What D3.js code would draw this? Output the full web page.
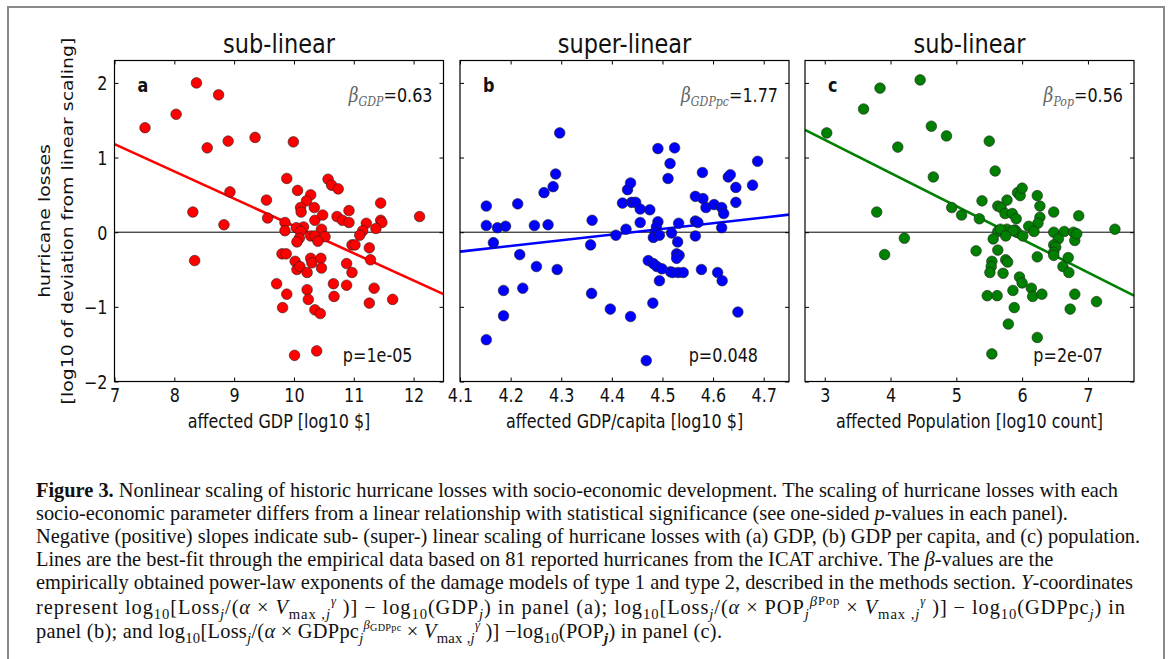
<!DOCTYPE html>
<html lang="en">
<head>
<meta charset="utf-8">
<title>Nonlinear scaling of hurricane losses</title>
<script src="https://d3js.org/d3.v7.min.js"></script>
<style>
  body { margin: 0; background: #fff; }
  #fig text { font-family: "DejaVu Sans", sans-serif; fill: #111; }
  #fig .caption text { font-family: "Liberation Serif", "Times New Roman", serif; fill: #111; }
  #fig .math { font-family: "DejaVu Serif", serif; font-style: italic; }
</style>
</head>
<body>
<svg id="fig" width="1171" height="659"></svg>
<script>
// ---- data ----
const yTicks = [-2, -1, 0, 1, 2];
const titles = ['sub-linear', 'super-linear', 'sub-linear'];
const xLabels = ['affected GDP [log10 $]', 'affected GDP/capita [log10 $]', 'affected Population [log10 count]'];
const letters = ['a', 'b', 'c'];
const betaNames = ['GDP', 'GDPpc', 'Pop'];
const betaValues = ['0.63', '1.77', '0.56'];
const pValues = ['p=1e-05', 'p=0.048', 'p=2e-07'];
const xDomains = [[7, 12.5], [4.1, 4.75], [2.7, 7.7]];
const xTicks = [[7, 8, 9, 10, 11, 12], [4.1, 4.2, 4.3, 4.4, 4.5, 4.6, 4.7], [3, 4, 5, 6, 7]];

// (x, y) per hurricane
const gdpPoints = [
  [7.51,1.40],[8.03,1.58],[8.37,2.00],[8.74,1.84],[8.55,1.13],[8.90,1.22],[9.35,1.27],[9.99,1.21],
  [8.31,0.27],[8.83,0.10],[8.93,0.54],[9.54,0.43],[9.56,0.19],[9.88,0.72],[10.06,0.56],[10.28,0.50],
  [10.21,0.42],[10.11,0.33],[10.12,0.27],[10.34,0.33],[10.57,0.71],[10.63,0.63],[10.74,0.58],[10.35,0.16],
  [10.48,0.23],[10.72,0.21],[10.81,0.16],[10.92,0.29],[10.92,0.13],[11.21,0.12],[11.45,0.39],[11.45,0.16],
  [11.47,0.13],[12.10,0.21],[9.85,0.13],[9.85,0.02],[10.46,0.04],[10.16,0.07],[10.04,0.06],[11.37,0.05],
  [11.15,0.02],[10.11,0.01],
  [10.28,-0.05],[10.35,-0.05],[10.52,-0.06],[10.09,-0.08],[10.05,-0.13],[10.40,-0.12],[11.10,-0.04],
  [10.97,-0.17],[11.02,-0.17],[11.26,-0.21],[11.28,-0.37],[9.80,-0.29],[9.87,-0.29],[8.34,-0.38],[10.02,-0.39],
  [10.28,-0.35],[10.30,-0.41],[10.45,-0.35],[10.88,-0.42],[10.05,-0.50],[10.10,-0.46],[10.22,-0.54],[10.46,-0.48],
  [10.97,-0.54],[9.71,-0.69],[10.66,-0.69],[10.88,-0.71],[10.22,-0.77],[11.34,-0.75],[9.88,-0.83],[10.67,-0.86],
  [10.24,-0.90],[11.65,-0.90],[11.26,-0.95],[9.81,-1.01],[10.35,-1.04],[10.44,-1.09],[10.01,-1.65],[10.38,-1.59]
];
const gdppcPoints = [
  [4.152,0.35],[4.152,0.09],[4.174,0.06],[4.190,0.08],[4.214,0.38],[4.247,0.09],[4.274,0.10],[4.266,0.53],
  [4.284,0.61],[4.289,0.78],[4.297,1.33],[4.361,0.16],[4.421,0.39],[4.431,0.57],[4.437,0.66],[4.439,0.40],
  [4.447,0.40],[4.456,0.31],[4.456,0.13],[4.428,0.04],[4.475,0.30],[4.491,1.12],[4.524,1.13],[4.515,0.92],
  [4.511,0.72],[4.491,0.14],[4.488,0.07],[4.532,0.12],[4.565,0.48],[4.579,0.80],[4.580,0.45],[4.586,0.33],
  [4.602,0.37],[4.617,0.33],[4.621,0.25],[4.565,0.15],[4.570,0.13],[4.617,0.06],[4.630,0.74],[4.634,0.77],
  [4.645,0.60],[4.645,0.40],[4.678,0.63],[4.688,0.95],[4.486,0.00],
  [4.166,-0.14],[4.218,-0.30],[4.251,-0.46],[4.292,-0.50],[4.186,-0.78],[4.224,-0.75],[4.186,-1.12],[4.152,-1.44],
  [4.358,-0.17],[4.360,-0.82],[4.397,-1.03],[4.437,-1.13],[4.408,-0.04],[4.468,-1.72],[4.481,-0.95],[4.472,-0.38],
  [4.482,-0.42],[4.489,-0.46],[4.499,-0.49],[4.494,-0.65],[4.482,-0.07],[4.494,-0.04],[4.518,-0.01],[4.530,-0.13],
  [4.528,-0.29],[4.533,-0.31],[4.528,-0.35],[4.516,-0.53],[4.520,-0.54],[4.531,-0.54],[4.541,-0.54],[4.565,-0.05],
  [4.577,-0.50],[4.609,-0.54],[4.618,-0.65],[4.649,-1.07]
];
const popPoints = [
  [3.03,1.33],[3.59,1.65],[3.84,1.93],[4.45,2.04],[4.11,1.14],[4.62,1.42],[4.85,1.29],[5.50,1.22],
  [5.59,0.82],[4.65,0.74],[3.79,0.27],[4.93,0.33],[5.08,0.23],[5.35,0.18],[5.39,0.42],[5.63,0.35],
  [5.68,0.33],[5.74,0.25],[5.77,0.43],[5.85,0.25],[5.91,0.18],[5.93,0.53],[5.97,0.49],[6.00,0.59],
  [6.23,0.49],[6.27,0.35],[6.27,0.20],[6.24,0.12],[6.10,0.08],[6.18,0.01],[6.48,0.27],[6.86,0.22],
  [5.63,0.01],[5.77,0.04],[5.89,0.03],[5.92,0.00],[6.48,0.00],[6.64,0.01],[6.78,0.00],[7.41,0.04],
  [5.67,0.04],[5.86,0.02],
  [4.21,-0.08],[3.91,-0.30],[6.01,-0.05],[5.75,-0.05],[5.56,-0.09],[5.30,-0.25],[5.63,-0.24],[5.54,-0.39],
  [5.53,-0.46],[5.51,-0.54],[5.75,-0.37],[5.78,-0.40],[5.71,-0.55],[6.55,-0.09],[6.48,-0.17],[6.51,-0.20],
  [6.48,-0.27],[6.48,-0.31],[6.23,-0.33],[6.70,-0.34],[6.62,-0.46],[6.71,-0.54],[6.80,-0.11],[6.83,-0.02],
  [5.96,-0.60],[6.00,-0.68],[5.86,-0.78],[6.14,-0.75],[6.16,-0.86],[6.30,-0.83],[5.47,-0.85],[5.62,-0.85],
  [6.80,-0.83],[5.88,-1.01],[7.13,-0.93],[6.73,-1.03],[5.79,-1.23],[6.23,-1.41],[5.54,-1.63]
];
// best-fit lines, end points
const gdpFit = [[7, 1.18], [12.5, -0.83]];
const gdppcFit = [[4.1, -0.26], [4.75, 0.235]];
const popFit = [[2.7, 1.37], [7.7, -0.85]];

const seriesPoints = [gdpPoints, gdppcPoints, popPoints];
const seriesFits = [gdpFit, gdppcFit, popFit];
const seriesColors = ['#ff0000', '#0000ff', '#008000'];

// ---- layout ----
const svg = d3.select('#fig');
const panelLefts = [114.5, 460, 805];
const panelW = 329;
const plotTop = 60.5, plotBottom = 381.5;
const stretch = 1.18;   // the published figure is stretched vertically

svg.append('rect')
  .attr('x', 8).attr('y', 7).attr('width', 1156).attr('height', 700)
  .attr('fill', 'none').attr('stroke', '#8a8a8a').attr('stroke-width', 2);

const y = d3.scaleLinear().domain([-2, 2.3]).range([plotBottom, plotTop]);
const minus = d => d < 0 ? '\u2212' + Math.abs(d) : String(d);

// text placed at (x, y) baseline, stretched vertically like the original
function label(parent, px, py, str, size, anchor = 'start') {
  return parent.append('text')
    .attr('transform', `translate(${px},${py}) scale(1,${stretch})`)
    .attr('text-anchor', anchor).style('font-size', size + 'px').text(str);
}

panelLefts.forEach((left, i) => {
  const x = d3.scaleLinear().domain(xDomains[i]).range([left, left + panelW]);
  const g = svg.append('g');
  const color = seriesColors[i];

  // zero line
  g.append('line')
    .attr('x1', left).attr('x2', left + panelW)
    .attr('y1', y(0)).attr('y2', y(0))
    .attr('stroke', '#000').attr('stroke-width', 1);

  // fit line
  g.append('path')
    .datum(seriesFits[i])
    .attr('d', d3.line().x(d => x(d[0])).y(d => y(d[1])))
    .attr('fill', 'none').attr('stroke', color).attr('stroke-width', 2.6);

  // points
  g.append('g').selectAll('circle')
    .data(seriesPoints[i])
    .join('circle')
    .attr('cx', d => x(d[0])).attr('cy', d => y(d[1]))
    .attr('r', 5.3)
    .attr('fill', color).attr('stroke', '#222').attr('stroke-width', 0.6);

  // axes with inward ticks
  const fmt = i === 1 ? d3.format('.1f') : d3.format('d');
  const xb = g.append('g').attr('transform', `translate(0,${plotBottom})`)
    .call(d3.axisBottom(x).tickValues(xTicks[i]).tickSizeInner(-4).tickSizeOuter(0).tickFormat(fmt));
  const xt = g.append('g').attr('transform', `translate(0,${plotTop})`)
    .call(d3.axisTop(x).tickValues(xTicks[i]).tickSizeInner(-4).tickSizeOuter(0).tickFormat(''));
  const yl = g.append('g').attr('transform', `translate(${left},0)`)
    .call(d3.axisLeft(y).tickValues(yTicks).tickSizeInner(-4).tickSizeOuter(0)
      .tickFormat(i === 0 ? minus : ''));
  const yr = g.append('g').attr('transform', `translate(${left + panelW},0)`)
    .call(d3.axisRight(y).tickValues(yTicks).tickSizeInner(-4).tickSizeOuter(0).tickFormat(''));
  [xb, xt, yl, yr].forEach(a => {
    a.select('.domain').remove();
    a.selectAll('line').attr('stroke', '#000');
    a.selectAll('text').style('font-size', '16px').attr('fill', '#111')
      .attr('x', null).attr('y', null).attr('dy', null);
  });
  xb.selectAll('text').attr('transform', `translate(0,20) scale(1,${stretch})`);
  yl.selectAll('text').attr('transform', `translate(-7,7) scale(1,${stretch})`);

  // frame
  g.append('rect')
    .attr('x', left).attr('y', plotTop).attr('width', panelW).attr('height', plotBottom - plotTop)
    .attr('fill', 'none').attr('stroke', '#000').attr('stroke-width', 1.2);

  // title, x label
  label(g, left + panelW / 2, 53, titles[i], 22.5, 'middle');
  label(g, left + panelW / 2, 428, xLabels[i], 16, 'middle');

  // panel letter
  label(g, left + 23, 92, letters[i], 16).style('font-weight', 'bold');

  // beta annotation
  const bt = label(g, left + panelW - 11, 102, '', 16, 'end');
  bt.append('tspan').attr('class', 'math').attr('fill', '#666').style('font-size', '17px').text('\u03b2');
  bt.append('tspan').attr('class', 'math').attr('fill', '#666').attr('dy', 3.5)
    .style('font-size', '11px').text(betaNames[i]);
  bt.append('tspan').attr('dy', -3.5).style('font-family', '"DejaVu Serif", serif').text('=');
  bt.append('tspan').text(betaValues[i]);

  // p value
  label(g, left + panelW - 31, 362, pValues[i], 16, 'end');
});

// y axis label
[['hurricane losses', 50], ['[log10 of deviation from linear scaling]', 73]].forEach(([t, bx]) => {
  svg.append('text')
    .attr('transform', `translate(${bx},${(plotTop + plotBottom) / 2}) scale(1,${stretch}) rotate(-90)`)
    .attr('text-anchor', 'middle')
    .style('font-size', '16px').text(t);
});

// ---- caption ----
const caption = svg.append('g').attr('class', 'caption');
const capLeft = 36;
const capLines = [
  [['Figure 3.', 'b'], ' Nonlinear scaling of historic hurricane losses with socio-economic development. The scaling of hurricane losses with each'],
  ['socio-economic parameter differs from a linear relationship with statistical significance (see one-sided ', ['p', 'i'], '-values in each panel).'],
  ['Negative (positive) slopes indicate sub- (super-) linear scaling of hurricane losses with (a) GDP, (b) GDP per capita, and (c) population.'],
  ['Lines are the best-fit through the empirical data based on 81 reported hurricanes from the ICAT archive. The ', ['\u03b2', 'i'], '-values are the'],
  ['empirically obtained power-law exponents of the damage models of type 1 and type 2, described in the methods section. ', ['Y', 'i'], '-coordinates'],
  ['represent log', ['10', 'sub'], '[Loss', ['j', 'sub i'], '/(', ['\u03b1', 'i'], ' \u00d7 ', ['V', 'i'], ['max ,', 'sub'], ['j', 'sub i'], ['\u03b3', 'ss i'],
   ' )] \u2212  log', ['10', 'sub'], '(GDP', ['j', 'sub i'], ') in panel (a); log', ['10', 'sub'], '[Loss', ['j', 'sub i'], '/(', ['\u03b1', 'i'],
   '  \u00d7  POP', ['j', 'sub i'], ['\u03b2', 'sup i'], ['Pop', 'ss'], ' \u00d7 ', ['V', 'i'], ['max ,', 'sub'], ['j', 'sub i'], ['\u03b3', 'ss i'],
   ' )]  \u2212 log', ['10', 'sub'], '(GDPpc', ['j', 'sub i'], ') in'],
  ['panel (b); and log', ['10', 'sub'], '[Loss', ['j', 'sub i'], '/(', ['\u03b1', 'i'], '  \u00d7  GDPpc', ['j', 'sub i'], ['\u03b2', 'ss i'], ['GDPpc', 'ss2'],
   ' \u00d7 ', ['V', 'i'], ['max ,', 'sub'], ['j', 'sub i'], ['\u03b3', 'ss i'], ' )] \u2212log', ['10', 'sub'], '(POP', ['j', 'sub i b'], ') in panel (c).']
];
const capBaselines = [497, 520, 543, 566, 589, 614, 638];
// widths of the two formula lines in the figure (they are set loosely)
const capFitWidths = {5: 1089, 6: 686};

function drawLine(lineSegs, yPos, size) {
  const t = caption.append('text').attr('x', capLeft).attr('y', yPos).style('font-size', size + 'px');
  let shift = 0;
  lineSegs.forEach(s => {
    const [txt, st] = typeof s === 'string' ? [s, ''] : s;
    const flags = st.split(' ');
    let target = 0, scale = 1;
    if (flags.includes('sub')) { target = 0.25 * size; scale = 0.72; }
    if (flags.includes('sup')) { target = -0.38 * size; scale = 0.72; }
    if (flags.includes('ss')) { target = -0.42 * size; scale = 0.62; }
    if (flags.includes('ss2')) { target = -0.36 * size; scale = 0.5; }
    const sp = t.append('tspan').attr('dy', target - shift).text(txt);
    shift = target;
    if (scale !== 1) sp.style('font-size', (size * scale) + 'px');
    if (flags.includes('b')) sp.style('font-weight', 'bold');
    if (flags.includes('i')) sp.style('font-style', 'italic');
  });
  return t;
}

// fit the first caption line to its width in the figure
const probe = drawLine(capLines[0], capBaselines[0], 18);
const capSize = 18 * (1083 / probe.node().getComputedTextLength());
probe.remove();
capLines.forEach((l, i) => {
  const t = drawLine(l, capBaselines[i], capSize);
  if (capFitWidths[i]) t.attr('textLength', capFitWidths[i]).attr('lengthAdjust', 'spacing');
});
</script>
</body>
</html>
